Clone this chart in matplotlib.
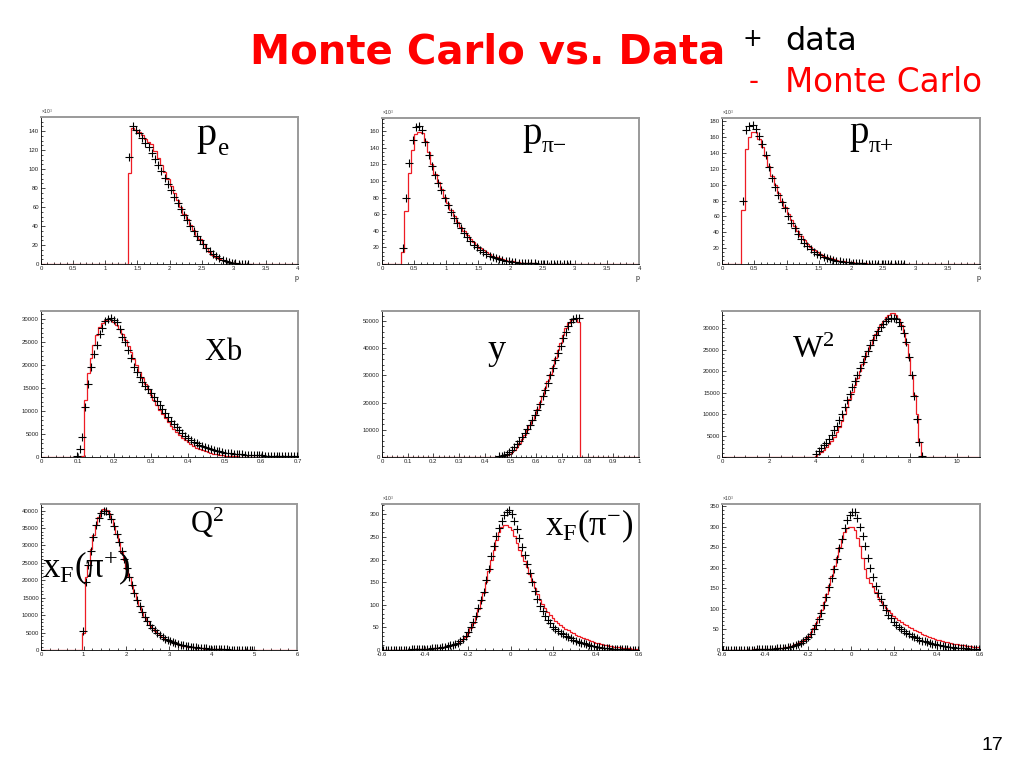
import numpy as np
import matplotlib
matplotlib.use('Agg')
import matplotlib.pyplot as plt
from matplotlib.ticker import MultipleLocator, AutoMinorLocator, FuncFormatter

plt.rcParams['axes.unicode_minus'] = False
plt.rcParams['font.family'] = ['Liberation Sans', 'DejaVu Sans']
plt.rcParams['mathtext.fontset'] = 'custom'
plt.rcParams['mathtext.rm'] = 'Liberation Serif'
plt.rcParams['mathtext.it'] = 'Liberation Serif:italic'
plt.rcParams['mathtext.bf'] = 'Liberation Serif:bold'

# ---------------- data ----------------
# p_e  (x10^3), 80 bins 0..4, first filled bin index 27
pe_data = [113, 146, 141, 138, 133, 128, 123, 117, 111, 104, 98, 91, 84, 78, 71, 64, 58, 52, 46, 40,
           35, 30, 25, 21, 17, 13.5, 10.5, 8, 6, 4.3, 3, 2, 1.3, 0.8, 0.5, 0.3, 0.15, 0.05]
pe_mc = [96, 143, 141, 139, 136, 132, 129, 127, 119, 112, 104, 97, 90, 82, 75, 67, 60, 53, 47, 41,
         36, 30, 26, 21, 17, 13, 10, 7.5, 5.5, 4, 2.8, 1.8, 1.1, 0.6, 0.3, 0.15, 0.05]

# p_pi-  (x10^3), 80 bins 0..4, first filled bin index 6
ppim_data = [19, 79, 122, 150, 165, 166, 161, 147, 132, 118, 107, 98, 89, 80, 71, 63, 56, 49, 43, 37,
             32, 27.5, 23.5, 20, 17, 14.5, 12, 10, 8.4, 7, 5.8, 4.8, 4, 3.3, 2.7, 2.2, 1.8, 1.5, 1.2, 1.0,
             0.8, 0.65, 0.5, 0.4, 0.32, 0.25, 0.19, 0.14, 0.1, 0.08, 0.06, 0.04, 0.03]
ppim_mc = [15, 64, 110, 138, 157, 159, 158, 148, 135, 121, 109, 99, 90, 81, 73, 65, 58, 51, 45, 39.5,
           34.5, 30, 26, 22.5, 19.5, 16.5, 14, 12, 10, 8.5, 7.2, 6, 5, 4.1, 3.4, 2.8, 2.3, 1.8, 1.4, 1.1,
           0.9, 0.7, 0.5, 0.4, 0.3, 0.2, 0.15, 0.1, 0.07, 0.05, 0.03, 0.02, 0.01]

# p_pi+  (x10^3), 80 bins 0..4, first filled bin index 6
ppip_data = [79, 169, 174, 175, 170, 161, 151, 137, 122, 109, 97, 87, 78, 70, 60, 52, 45, 38, 32, 27,
             22.5, 18.5, 15.5, 13, 11, 9, 7.5, 6.2, 5.1, 4.2, 3.4, 2.8, 2.3, 1.9, 1.5, 1.2, 1.0, 0.8, 0.6,
             0.5, 0.4, 0.3, 0.22, 0.16, 0.12, 0.09, 0.06, 0.04, 0.03, 0.02, 0.01]
ppip_mc = [68, 145, 160, 166, 166, 158, 147, 136, 123, 111, 99, 89, 80, 72, 63, 55, 48, 41, 35, 30,
           25.5, 21.5, 18, 15, 12.5, 10.5, 8.7, 7.2, 6, 5, 4.1, 3.4, 2.8, 2.3, 1.9, 1.5, 1.2, 1.0, 0.8,
           0.6, 0.45, 0.35, 0.25, 0.18, 0.12, 0.08, 0.05, 0.03, 0.02, 0.01]

# Xb, 90 bins 0..0.7, first filled bin index 12
xb_data = [300, 1800, 4400, 10900, 15900, 19600, 22300, 24400, 26600, 28000, 29600, 30000, 30100, 29700,
           29400, 27900, 26100, 25000, 23200, 21400, 19600, 18500, 17400, 16300, 15400, 14700, 13900,
           13100, 12200, 11300, 10400, 9500, 8700, 7900, 7200, 6500, 5900, 5200, 4600, 4150, 3750, 3350,
           3000, 2700, 2400, 2150, 1900, 1700, 1500, 1350, 1200, 1080, 970, 870, 790, 720, 660, 610, 560,
           520, 480, 450, 420, 390, 360, 340, 320, 300, 280, 260, 245, 230, 215, 200, 190, 180, 170, 160]
xb_mc = [0, 0, 300, 12400, 18300, 21600, 24300, 26400, 28200, 29200, 29800, 29900, 29800, 29400, 28700,
         27800, 26600, 25400, 24100, 22700, 21300, 19900, 18500, 17200, 15900, 14700, 13500, 12400, 11300,
         10300, 9300, 8400, 7600, 6800, 6100, 5400, 4800, 4200, 3700, 3200, 2800, 2400, 2050, 1750, 1480,
         1250, 1050, 870, 720, 590, 480, 390, 310, 250, 200, 160, 130, 100, 80, 65, 50, 40, 32, 25, 20,
         16, 12, 10, 8, 6, 5, 4, 3, 2, 2, 1, 1, 1]

# y, 100 bins 0..1, first filled bin index 45
y_data = [200, 400, 700, 1200, 1800, 2700, 3700, 4800, 6000, 7300, 8700, 10200, 11800, 13500, 15300,
          17300, 19400, 22300, 24700, 27400, 30100, 32800, 35500, 38200, 41000, 43700, 46100, 48200,
          49700, 50800, 51200, 51100]
y_mc = [50, 150, 350, 700, 1200, 1800, 2700, 3800, 5000, 6500, 8100, 9800, 11600, 13500, 15600, 17800,
        20100, 22600, 25200, 27900, 30700, 33500, 36400, 39300, 42100, 44800, 47300, 49300, 50400,
        50800, 50600, 49800]

# W^2, 100 bins 0..11, first filled bin index 36
w2_data = [600, 1500, 2100, 2700, 3300, 4200, 5100, 6200, 7300, 8600, 10100, 11700, 13200, 14700, 16200,
           17700, 19200, 20700, 22100, 23500, 24800, 26000, 27200, 28300, 29300, 30200, 30900, 31600,
           32100, 32300, 32300, 32100, 31500, 30500, 28900, 26700, 23300, 19200, 14300, 8800, 3600, 300]
w2_mc = [300, 700, 1200, 1700, 2300, 3000, 3800, 4700, 5800, 7000, 8500, 10000, 11700, 13400, 15100,
         16800, 18500, 20100, 21700, 23200, 24700, 26100, 27400, 28600, 29800, 30800, 31700, 32500,
         33100, 33500, 33500, 33100, 32200, 30800, 28800, 26200, 23000, 19000, 14500, 10000, 3500, 200]

# Q^2, 100 bins 0..6, first filled bin index 16
q2_data = [5500, 19500, 24500, 28500, 32500, 35800, 37800, 39300, 40000, 39800, 38900, 37500, 35600,
           33400, 31000, 28500, 26000, 23500, 21000, 18600, 16400, 14400, 12600, 11000, 9600, 8400, 7300,
           6400, 5600, 4900, 4300, 3800, 3300, 2900, 2550, 2250, 2000, 1750, 1550, 1370, 1210, 1070, 950,
           840, 740, 650, 570, 500, 440, 390, 340, 300, 260, 230, 200, 175, 150, 130, 110, 95, 80, 70,
           60, 50, 40, 30, 20]
q2_mc = [5000, 21000, 24500, 29000, 33000, 36000, 38300, 39800, 40500, 40200, 39200, 37600, 35600, 33300,
         31000, 28000, 25800, 23300, 20900, 18500, 16300, 14300, 12500, 10900, 9500, 8300, 7200, 6300,
         5500, 4800, 4200, 3700, 3200, 2800, 2450, 2150, 1900, 1650, 1450, 1280, 1120, 990, 870, 760,
         670, 590, 510, 450, 390, 340, 300, 260, 220, 190, 160, 140, 120, 100, 85, 70, 60, 50, 40, 30,
         25, 20, 15]

# x_F(pi-) (x10^3), 100 bins -0.6..0.6
xfm_data = [0.3, 0.3, 0.4, 0.4, 0.5, 0.6, 0.6, 0.7, 0.8, 0.9,
            1.0, 1.2, 1.4, 1.6, 1.8, 2.0, 2.3, 2.6, 3.0, 3.5,
            4.0, 4.6, 5.3, 6.2, 7.2, 8.4, 10, 11.8, 14, 16.5,
            19.5, 24, 31, 40, 51, 62, 75, 92, 110, 128,
            154, 180, 207, 231, 253, 271, 286, 298, 306, 309,
            301, 286, 268, 248, 227, 210, 190, 170, 151, 130,
            112, 98, 86, 75, 66, 59, 51, 46, 42, 38,
            34.5, 31, 28, 25.5, 23, 21, 18.5, 16.5, 14.5, 12.5,
            11, 9.5, 8.2, 7.1, 6.1, 5.2, 4.5, 3.9, 3.4, 2.9,
            2.5, 2.2, 1.9, 1.6, 1.4, 1.2, 1.0, 0.9, 0.8, 0.7]
xfm_mc = [0.2, 0.2, 0.3, 0.3, 0.4, 0.4, 0.5, 0.6, 0.7, 0.8,
          0.9, 1.0, 1.2, 1.4, 1.6, 1.8, 2.1, 2.4, 2.8, 3.3,
          3.8, 4.4, 5.1, 6.0, 7.0, 8.2, 9.7, 11.5, 13.6, 16.2,
          19.3, 23.5, 29, 37, 48, 59, 73, 90, 108, 127,
          150, 174, 199, 222, 243, 260, 272, 277, 276, 272,
          266, 253, 236, 222, 208, 196, 183, 168, 153, 138,
          124, 111, 101, 92, 84, 77, 71, 65, 60, 55,
          51, 47, 43.5, 40, 37, 34, 31, 28.5, 26, 23.5,
          21.5, 19.5, 17.5, 16, 14.5, 13, 11.8, 10.6, 9.5, 8.5,
          7.6, 6.8, 6.0, 5.3, 4.7, 4.1, 3.6, 3.2, 2.8, 2.4]

# x_F(pi+) (x10^3), 100 bins -0.6..0.6
xfp_data = [0.3, 0.3, 0.3, 0.4, 0.4, 0.5, 0.5, 0.6, 0.7, 0.8,
            0.9, 1.0, 1.1, 1.3, 1.5, 1.7, 1.9, 2.2, 2.5, 2.8,
            3.2, 3.7, 4.2, 4.8, 5.5, 6.4, 7.5, 9, 11, 13.5,
            16.5, 21, 26, 32, 40, 50, 60, 75, 90, 110,
            128, 152, 175, 197, 222, 247, 270, 296, 315, 328,
            336, 336, 322, 300, 278, 253, 224, 200, 178, 155,
            138, 124, 110, 97, 86, 77, 69, 62, 57, 51,
            47, 42, 38, 34.5, 31.5, 28.5, 25.5, 23, 21, 19,
            17, 15.3, 13.8, 12.4, 11, 9.9, 8.9, 8.0, 7.2, 6.5,
            5.8, 5.2, 4.7, 4.2, 3.8, 3.4, 3.0, 2.7, 2.4, 2.2]
xfp_mc = [0.3, 0.3, 0.4, 0.4, 0.5, 0.5, 0.6, 0.7, 0.8, 0.9,
          1.0, 1.1, 1.3, 1.5, 1.7, 1.9, 2.2, 2.5, 2.9, 3.3,
          3.8, 4.4, 5.1, 6.0, 7.0, 8.2, 9.6, 11.3, 13.5, 16.2,
          19.5, 23.5, 28.5, 35, 43, 53, 65, 80, 97, 116,
          136, 158, 181, 204, 227, 250, 270, 286, 296, 300,
          298, 291, 273, 252, 224, 198, 176, 162, 152, 140,
          129, 119, 110, 102, 95, 89, 83, 78, 73, 69,
          64, 60, 56, 52.5, 49, 46, 43, 40, 37, 34.5,
          32, 29.5, 27.5, 25.5, 23.5, 21.5, 20, 18.5, 17, 15.7,
          14.5, 13.4, 12.4, 11.5, 10.6, 9.8, 9.0, 8.3, 7.6, 7.0]

# ---------------- figure ----------------
W, H = 1023, 767
fig = plt.figure(figsize=(W / 100, H / 100), dpi=100)
RED = '#ee1c24'

def fx(x):
    return x / W

def fy(y):
    return 1 - y / H

fmt = FuncFormatter(lambda v, p: '%g' % round(v, 6))

panels = [
    dict(box=(41, 117, 298, 264), xr=(0, 4), nb=80, st=27, d=pe_data, m=pe_mc, ymax=155,
         xt=0.5, xn=5, yt=20, yn=4, exp=True, xl='p'),
    dict(box=(382, 118, 639, 264), xr=(0, 4), nb=80, st=6, d=ppim_data, m=ppim_mc, ymax=176,
         xt=0.5, xn=5, yt=20, yn=4, exp=True, xl='p'),
    dict(box=(722, 118, 980, 264), xr=(0, 4), nb=80, st=6, d=ppip_data, m=ppip_mc, ymax=184,
         xt=0.5, xn=5, yt=20, yn=4, exp=True, xl='p'),
    dict(box=(41, 311, 298, 457), xr=(0, 0.7), nb=90, st=12, d=xb_data, m=xb_mc, ymax=31700,
         xt=0.1, xn=5, yt=5000, yn=5, exp=False, xl=None),
    dict(box=(382, 311, 639, 457), xr=(0, 1), nb=100, st=45, d=y_data, m=y_mc, ymax=53700,
         xt=0.1, xn=5, yt=10000, yn=5, exp=False, xl=None),
    dict(box=(722, 311, 980, 457), xr=(0, 11), nb=100, st=36, d=w2_data, m=w2_mc, ymax=34000,
         xt=2, xn=4, yt=5000, yn=5, exp=False, xl=None),
    dict(box=(41, 504, 297, 650), xr=(0, 6), nb=100, st=16, d=q2_data, m=q2_mc, ymax=41900,
         xt=1, xn=5, yt=5000, yn=5, exp=False, xl=None),
    dict(box=(382, 504, 639, 650), xr=(-0.6, 0.6), nb=100, st=0, d=xfm_data, m=xfm_mc, ymax=323,
         xt=0.2, xn=5, yt=50, yn=5, exp=True, xl=None),
    dict(box=(722, 504, 980, 650), xr=(-0.6, 0.6), nb=100, st=0, d=xfp_data, m=xfp_mc, ymax=355,
         xt=0.2, xn=5, yt=50, yn=5, exp=True, xl=None),
]

for P in panels:
    l, t, r, b = P['box']
    ax = fig.add_axes([fx(l), fy(b), (r - l) / W, (b - t) / H])
    xmin, xmax = P['xr']
    edges = np.linspace(xmin, xmax, P['nb'] + 1)
    centers = 0.5 * (edges[:-1] + edges[1:])
    mc_full = np.zeros(P['nb'])
    mc_full[P['st']:P['st'] + len(P['m'])] = P['m']
    d_full = np.full(P['nb'], np.nan)
    d_full[P['st']:P['st'] + len(P['d'])] = P['d']
    ax.stairs(mc_full, edges, color=RED, lw=0.9, zorder=2)
    ax.plot(centers, d_full, ls='none', marker='+', ms=5.5, mew=0.8, color='black', zorder=3)
    ax.set_xlim(xmin, xmax)
    ax.set_ylim(0, P['ymax'])
    ax.xaxis.set_major_locator(MultipleLocator(P['xt']))
    ax.xaxis.set_minor_locator(AutoMinorLocator(P['xn']))
    ax.yaxis.set_major_locator(MultipleLocator(P['yt']))
    ax.yaxis.set_minor_locator(AutoMinorLocator(P['yn']))
    ax.xaxis.set_major_formatter(fmt)
    ax.yaxis.set_major_formatter(fmt)
    ax.tick_params(which='both', direction='in', top=False, right=False, width=0.5,
                   labelsize=4.3, labelcolor='#222222', pad=1.5)
    ax.tick_params(which='major', length=3.2)
    ax.tick_params(which='minor', length=1.6)
    for s in ('left', 'bottom'):
        ax.spines[s].set_linewidth(0.6)
        ax.spines[s].set_color('black')
    for s in ('top', 'right'):
        ax.spines[s].set_linewidth(1.4)
        ax.spines[s].set_color('#9a9a9a')
    if P['exp']:
        ax.text(0.0, 1.01, r'×10$^{3}$', transform=ax.transAxes, fontsize=3.5,
                ha='left', va='bottom', color='#333333')
    if P['xl']:
        ax.text(1.0, -0.075, P['xl'], transform=ax.transAxes, fontsize=5,
                ha='right', va='top', color='#222222')

# ---------------- panel labels ----------------
SERIF = 'Liberation Serif'
# momentum labels: main letter + lowered subscript (text, x, baseline, size)
plain_labels = [
    ('p', 196, 145, 29), ('e', 218, 155, 18),
    ('p', 522, 144, 28), ('π−', 542, 152, 17),
    ('p', 849, 143, 28), ('π+', 869, 152, 17),
]
for txt, x, y, fs in plain_labels:
    fig.text(fx(x), fy(y), txt, fontsize=fs, family=SERIF, ha='left', va='baseline', color='black')

math_labels = [
    (r'$\mathrm{Xb}$', 204, 360, 22),
    (r'$\mathrm{y}$', 487, 359, 26),
    (r'$\mathrm{W}^{2}$', 792, 358, 23),
    (r'$\mathrm{Q}^{2}$', 190, 533, 22),
    (r'$\mathrm{x}_{\mathrm{F}}\mathrm{(π}^{+}\mathrm{)}$', 42, 577, 25),
    (r'$\mathrm{x}_{\mathrm{F}}\mathrm{(π}^{−}\mathrm{)}$', 545, 535, 25),
]
for txt, x, y, fs in math_labels:
    fig.text(fx(x), fy(y), txt, fontsize=fs, ha='left', va='baseline', color='black')

# ---------------- title / legend / page number ----------------
fig.text(fx(250), fy(63), 'Monte Carlo vs. Data', fontsize=29, fontweight='bold',
         color='#ff0000', family='DejaVu Sans', ha='left', va='baseline')
fig.text(fx(752), fy(39), '+', fontsize=17, color='black', family='DejaVu Sans',
         ha='center', va='center')
fig.text(fx(785), fy(50), 'data', fontsize=23, color='black', family='DejaVu Sans',
         ha='left', va='baseline')
fig.text(fx(754), fy(82), '-', fontsize=20, color='#ff0000', family='DejaVu Sans',
         ha='center', va='center')
fig.text(fx(785), fy(92), 'Monte Carlo', fontsize=23.5, color='#ff0000', family='DejaVu Sans',
         ha='left', va='baseline')
fig.text(fx(1003), fy(750), '17', fontsize=14, color='black', family='Liberation Sans',
         ha='right', va='baseline')

fig.savefig('out.png', dpi=100, facecolor='white')
